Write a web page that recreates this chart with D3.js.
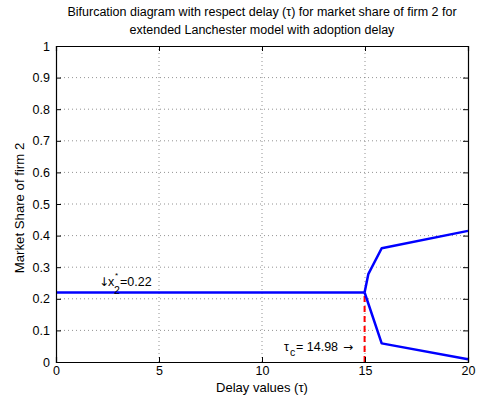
<!DOCTYPE html>
<html>
<head>
<meta charset="utf-8">
<script src="https://cdn.jsdelivr.net/npm/d3@7"></script>
<style>
  html, body { margin: 0; padding: 0; background: #fff; }
</style>
</head>
<body>
<svg id="chart" width="479" height="398" font-family="Liberation Sans, Arial, Helvetica, sans-serif"></svg>
<script>
// Bifurcation data: delay tau vs. market share of firm 2
const tauStable = [0, 14.98];
const shareStable = [0.22, 0.22];
const tauUpper = [14.98, 15.16, 15.81, 20];
const shareUpper = [0.22, 0.278, 0.36, 0.415];
const tauLower = [14.98, 15.81, 20];
const shareLower = [0.22, 0.059, 0.009];
const tauCritical = 14.98;
const xStar = 0.22;
const xTicks = [0, 5, 10, 15, 20];
const yTicks = [0, 0.1, 0.2, 0.3, 0.4, 0.5, 0.6, 0.7, 0.8, 0.9, 1];

const svg = d3.select("#chart");
const margin = { left: 56, right: 11, top: 46, bottom: 36 };
const W = 479, H = 398;
const x = d3.scaleLinear().domain([0, 20]).range([margin.left, W - margin.right]);
const y = d3.scaleLinear().domain([0, 1]).range([H - margin.bottom, margin.top]);

const g = svg.append("g");

// dotted grid
g.selectAll(".vgrid").data(xTicks.slice(1, -1)).enter().append("line")
  .attr("x1", d => x(d)).attr("x2", d => x(d))
  .attr("y1", y(0)).attr("y2", y(1))
  .attr("stroke", "#777").attr("stroke-width", 0.8).attr("stroke-dasharray", "1,3");
g.selectAll(".hgrid").data(yTicks.slice(1, -1)).enter().append("line")
  .attr("x1", x(0)).attr("x2", x(20))
  .attr("y1", d => y(d)).attr("y2", d => y(d))
  .attr("stroke", "#777").attr("stroke-width", 0.8).attr("stroke-dasharray", "1,3");

const line = d3.line().x(d => x(d[0])).y(d => y(d[1]));
const zip = (a, b) => a.map((v, i) => [v, b[i]]);

// critical delay marker
g.append("line")
  .attr("x1", x(tauCritical)).attr("x2", x(tauCritical))
  .attr("y1", y(0)).attr("y2", y(xStar))
  .attr("stroke", "#ff0000").attr("stroke-width", 2).attr("stroke-dasharray", "6,4");

// branches
[zip(tauStable, shareStable), zip(tauUpper, shareUpper), zip(tauLower, shareLower)].forEach(pts => {
  g.append("path").attr("d", line(pts))
    .attr("fill", "none").attr("stroke", "#0000ff").attr("stroke-width", 2.5)
    .attr("stroke-linejoin", "round");
});

// axes box with inward ticks
const axB = d3.axisBottom(x).tickValues(xTicks).tickSize(-5).tickPadding(4).tickFormat(d3.format("d"));
const axT = d3.axisTop(x).tickValues(xTicks).tickSize(-5).tickFormat("");
const axL = d3.axisLeft(y).tickValues(yTicks).tickSize(-5).tickPadding(6).tickFormat(d => d === 0 || d === 1 ? d3.format("d")(d) : d3.format(".1f")(d));
const axR = d3.axisRight(y).tickValues(yTicks).tickSize(-5).tickFormat("");

[[axB, `translate(0,${y(0)})`], [axT, `translate(0,${y(1)})`],
 [axL, `translate(${x(0)},0)`], [axR, `translate(${x(20)},0)`]].forEach(([ax, tr]) => {
  const a = svg.append("g").attr("transform", tr).call(ax);
  a.attr("font-family", null);
  a.select(".domain").attr("stroke", "#000").attr("stroke-width", 1.2);
  a.selectAll(".tick line").attr("stroke", "#000");
  a.selectAll("text").attr("font-size", 12.5).attr("fill", "#000");
});

// titles
const cx = (x(0) + x(20)) / 2;
const title = svg.append("text").attr("text-anchor", "middle")
  .attr("font-size", 12.5).attr("fill", "#000");
title.append("tspan").attr("x", cx).attr("y", 16)
  .text("Bifurcation diagram with respect delay (τ) for market share of firm 2 for");
title.append("tspan").attr("x", cx).attr("y", 34)
  .text("extended Lanchester model with adoption delay");

svg.append("text").attr("x", cx).attr("y", 392)
  .attr("text-anchor", "middle").attr("font-size", 13).text("Delay values (τ)");

svg.append("text").attr("transform", `translate(24,${(y(0) + y(1)) / 2 + 4}) rotate(-90)`)
  .attr("text-anchor", "middle").attr("font-size", 13.2).text("Market Share of firm 2");

// annotation: equilibrium value
const arrowFont = "DejaVu Sans, sans-serif";
svg.append("text").attr("x", 99).attr("y", 286).attr("font-size", 12)
  .attr("font-family", arrowFont).text("↓");
svg.append("text").attr("x", 108).attr("y", 286).attr("font-size", 12.5).text("x");
svg.append("text").attr("x", 115).attr("y", 278).attr("font-size", 8).text("*");
svg.append("text").attr("x", 114).attr("y", 294).attr("font-size", 10.5).text("2");
svg.append("text").attr("x", 120).attr("y", 286).attr("font-size", 12.5).text("=" + xStar.toFixed(2));

// annotation: critical delay
svg.append("text").attr("x", 284).attr("y", 351).attr("font-size", 12.5).text("τ");
svg.append("text").attr("x", 290).attr("y", 356).attr("font-size", 10.5).text("c");
svg.append("text").attr("x", 296).attr("y", 351).attr("font-size", 12.5).text("= " + tauCritical.toFixed(2));
svg.append("text").attr("x", 343).attr("y", 351).attr("font-size", 12)
  .attr("font-family", arrowFont).text("→");
</script>
</body>
</html>
